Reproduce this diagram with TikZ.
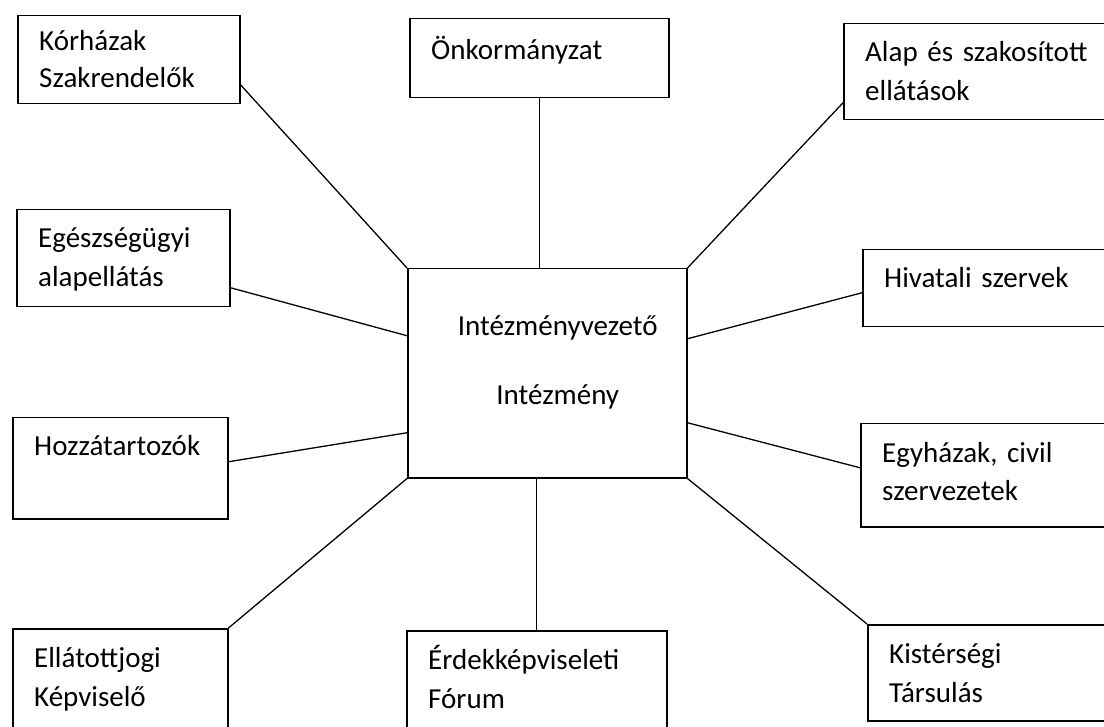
\documentclass[tikz,border=0pt]{standalone}
\usepackage{fontspec}
\setmainfont{Carlito}
\usepackage{tikz}
\usetikzlibrary{positioning,calc}

\begin{document}
\begin{tikzpicture}[
  x=1pt, y=-1pt,
  box/.style={draw, line width=1.5pt, anchor=north west, inner sep=0pt},
  lbl/.style={anchor=base west, inner sep=0pt, text width=240pt, align=left,
              font=\fontsize{29}{39}\selectfont, xshift=22pt, yshift=-39pt},
  ctr/.style={anchor=base, inner sep=0pt, text width=260pt, align=center,
              font=\fontsize{29}{39}\selectfont, xshift=10.5pt, yshift=10.5pt},
  link/.style={line width=1.3pt},
]
\clip (0,0) rectangle (1104,727);
% centre
\node[box, minimum width=279pt, minimum height=209pt,
  label={[ctr]center:Intézményvezető\\[30pt]Intézmény}] (kozp) at (407,268) {};
% left column
\node[box, minimum width=222pt, minimum height=88pt,
  label={[lbl, yshift=3pt]north west:Kórházak\\[-2pt]Szakrendelők}] (korhaz) at (17,15) {};
\node[box, minimum width=213pt, minimum height=97pt,
  label={[lbl]north west:Egészségügyi\\alapellátás}] (egeszs) at (16,209) {};
\node[box, minimum width=215pt, minimum height=101pt,
  label={[lbl]north west:Hozzátartozók}] (hozza) at (12,417) {};
\node[box, minimum width=215pt, minimum height=140pt,
  label={[lbl]north west:Ellátottjogi\\Képviselő}] (ellat) at (12,628) {};
% middle column
\node[box, minimum width=259pt, minimum height=79pt,
  label={[lbl, yshift=-3pt]north west:Önkormányzat}] (onkorm) at (409,18) {};
\node[box, minimum width=260pt, minimum height=140pt,
  label={[lbl]north west:Érdekképviseleti\\Fórum}] (erdek) at (406,630) {};
% right column
\node[box, minimum width=280pt, minimum height=96pt,
  label={[lbl]north west:Alap és szakosított\\ellátások}] (alap) at (843,23) {};
\node[box, minimum width=280pt, minimum height=77pt,
  label={[lbl]north west:Hivatali szervek}] (hivatal) at (862,249) {};
\node[box, minimum width=280pt, minimum height=103pt,
  label={[lbl]north west:Egyházak, civil\\szervezetek}] (egyhaz) at (860,423) {};
\node[box, minimum width=280pt, minimum height=96pt,
  label={[lbl]north west:Kistérségi\\Társulás}] (kister) at (867,624) {};
% connectors
\draw[link] ([yshift=-25pt]korhaz.east) -- (kozp.north west);
\draw[link] (onkorm.south) -- (onkorm.south |- kozp.north);
\draw[link] (kozp.north east) -- ([yshift=-31pt]alap.west);
\draw[link] ([yshift=-29.5pt]egeszs.east) -- ([yshift=37.5pt]kozp.west);
\draw[link] ([yshift=34.5pt]kozp.east) -- ([yshift=-4.5pt]hivatal.west);
\draw[link] ([yshift=6.5pt]hozza.east) -- ([yshift=-59.5pt]kozp.west);
\draw[link] ([yshift=-49.5pt]kozp.east) -- ([yshift=7.5pt]egyhaz.west);
\draw[link] (ellat.north east) -- (kozp.south west);
\draw[link] (erdek.north) -- (erdek.north |- kozp.south);
\draw[link] (kozp.south east) -- (kister.north west);
\end{tikzpicture}
\end{document}
